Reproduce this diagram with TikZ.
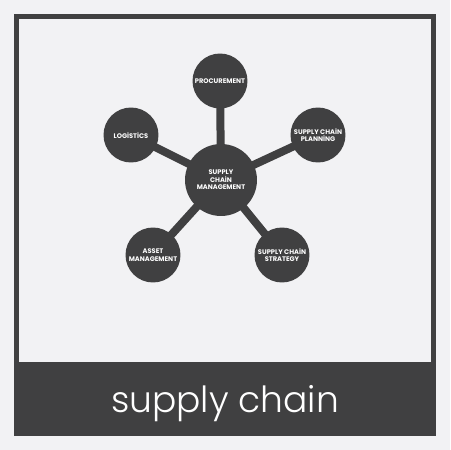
\documentclass[tikz,border=0pt]{standalone}
\usepackage{fontspec}
\setmainfont{Poppins}
\newfontfamily\captionfont{Poppins Light}
\usepackage{tikz}
\definecolor{iconbg}{HTML}{F2F2F4}
\definecolor{icondark}{HTML}{404041}

\begin{document}
\begin{tikzpicture}[
  x=0.02cm,y=-0.02cm,
  hub/.style={circle,fill=icondark,minimum size=1.44cm,inner sep=0pt,align=center,
              text=white,font=\bfseries\fontsize{3.8}{4.3}\selectfont},
  leaf/.style={hub,minimum size=1.1cm},
  spoke/.style={draw=icondark,line width=0.16cm,shorten <=-2pt,shorten >=-2pt}
]
% background and frame
\fill[iconbg] (0,0) rectangle (450,450);
\fill[icondark] (14,14) rectangle (436,436);
\fill[iconbg] (19,19) rectangle (431,362);
% hub and leaves
\node[hub]  (scm)  at (221,180) {SUPPLY\\CHAİN\\MANAGEMENT};
\node[leaf] (proc) at (220,81)  {PROCUREMENT};
\node[leaf] (logi) at (131,135) {LOGİSTİCS};
\node[leaf] (plan) at (318,135) {SUPPLY CHAİN\\PLANNİNG};
\node[leaf] (asset) at (153,255) {ASSET\\MANAGEMENT};
\node[leaf] (strat) at (282,255) {SUPPLY CHAİN\\STRATEGY};
\draw[spoke] (scm)--(proc); \draw[spoke] (scm)--(logi); \draw[spoke] (scm)--(plan);
\draw[spoke] (scm)--(asset); \draw[spoke] (scm)--(strat);
% caption
\node[anchor=base,text=white,inner sep=0pt,font=\captionfont\fontsize{20.5}{24}\selectfont] (title) at (225,412) {supply chain};
\end{tikzpicture}
\end{document}
